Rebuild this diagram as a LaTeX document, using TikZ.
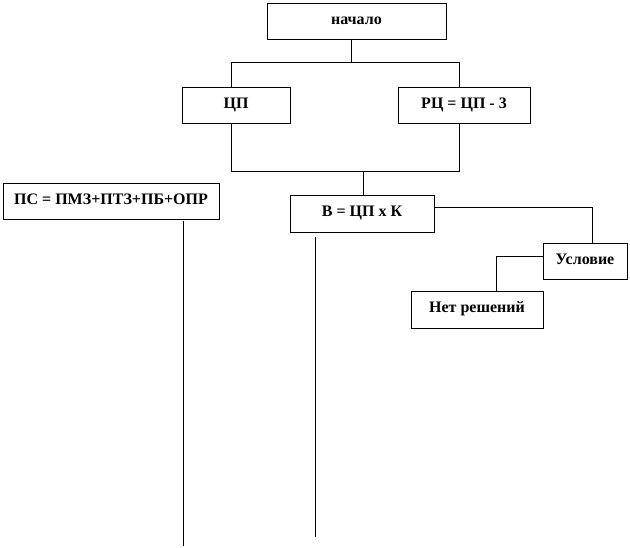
\documentclass[tikz,border=0pt]{standalone}
\usepackage{fontspec}
\setmainfont{Liberation Serif}
\begin{document}
\begin{tikzpicture}[x=1pt,y=-1pt,
  box/.style={draw, line width=0.9pt, inner sep=0pt, text height=11pt, text depth=5pt,
    minimum height=36pt, font=\bfseries\fontsize{16}{16}\selectfont},
  conn/.style={line width=0.9pt}]
\useasboundingbox (0,0) rectangle (630,547);
% boxes
\node[box, minimum width=179pt] (start) at (356.5,21) {начало};
\node[box, minimum width=108pt] (cp) at (236,105) {ЦП};
\node[box, minimum width=132pt] (rc) at (464,105) {РЦ = ЦП - 3};
\node[box, minimum width=216pt] (ps) at (111,201) {ПС = ПМЗ+ПТЗ+ПБ+ОПР};
\node[box, minimum width=144pt, minimum height=37pt] (b) at (362,213.5) {В = ЦП х К};
\node[box, minimum width=84pt] (usl) at (585,261) {Условие};
\node[box, minimum width=132pt, minimum height=37pt] (net) at (477,309.5) {Нет решений};
% junction coordinates
\coordinate (t1) at (351,62);
\coordinate (xl) at (231,62);
\coordinate (xr) at (459,62);
\coordinate (bl) at (231,171);
\coordinate (br) at (459,171);
\coordinate (bm) at (363,171);
\coordinate (c1) at (592,207);
\coordinate (c2) at (496,256);
\coordinate (p1) at (183,221);
\coordinate (p2) at (183,546);
\coordinate (q1) at (315,237);
\coordinate (q2) at (315,537);
% connectors
\draw[conn] (start.south -| t1) -- (t1);
\draw[conn] (cp.north -| xl) -- (xl) -- (xr) -- (rc.north -| xr);
\draw[conn] (cp.south -| bl) -- (bl) -- (br) -- (rc.south -| br);
\draw[conn] (bm) -- (b.north -| bm);
\draw[conn] (b.east |- c1) -- (c1) -- (usl.north -| c1);
\draw[conn] (usl.west |- c2) -- (c2) -- (net.north -| c2);
\draw[conn] (p1) -- (p2);
\draw[conn] (q1) -- (q2);
\end{tikzpicture}
\end{document}
